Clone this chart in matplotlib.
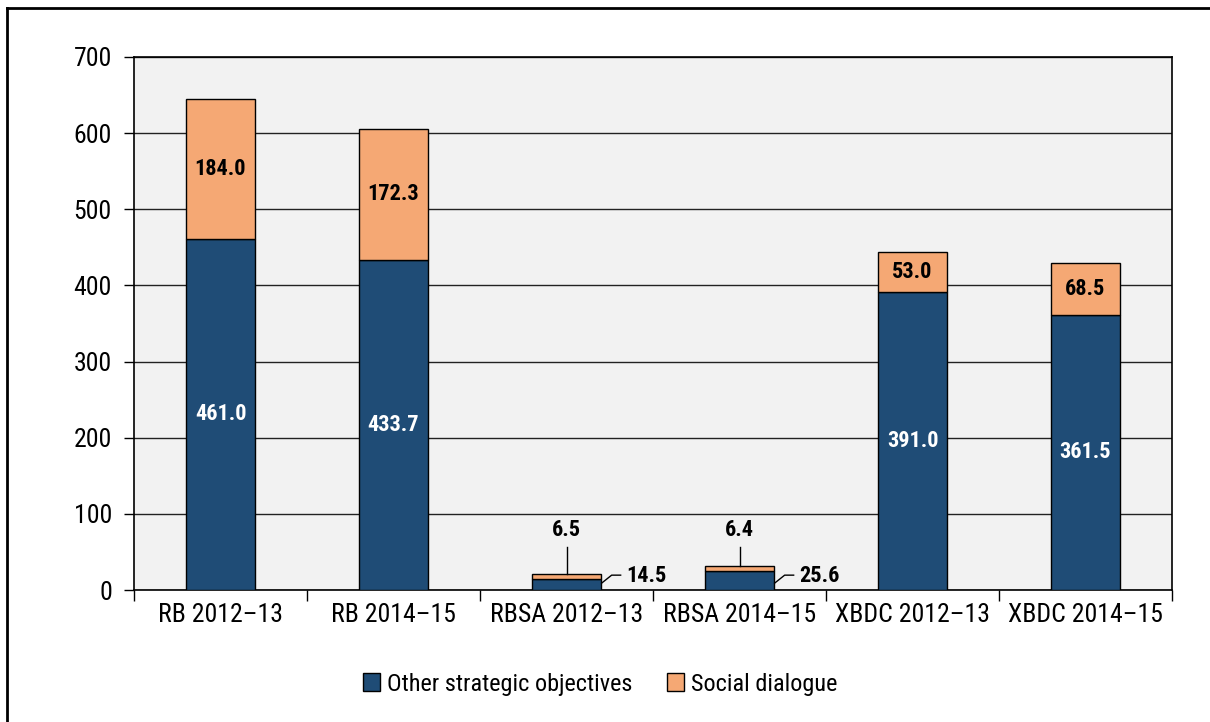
import matplotlib
matplotlib.use("Agg")
import matplotlib.pyplot as plt
from matplotlib.lines import Line2D
from matplotlib.patches import Patch

categories = ["RB 2012–13", "RB 2014–15", "RBSA 2012–13", "RBSA 2014–15", "XBDC 2012–13", "XBDC 2014–15"]
other = [461.0, 433.7, 14.5, 25.6, 391.0, 361.5]
social = [184.0, 172.3, 6.5, 6.4, 53.0, 68.5]
yticks = [0, 100, 200, 300, 400, 500, 600, 700]

FAM = ["Roboto Condensed", "Liberation Sans", "DejaVu Sans"]
plt.rcParams['font.family'] = FAM

NAVY = "#1F4C76"
ORANGE = "#F5A874"

fig = plt.figure(figsize=(12.1, 7.22), dpi=100)
W, H = 1210, 722
ax = fig.add_axes([134 / W, 1 - 590 / H, (1172 - 134) / W, (590 - 57) / H])
ax.set_facecolor("#F2F2F2")

x = list(range(len(categories)))
ax.bar(x, other, width=0.4, color=NAVY, edgecolor="black", linewidth=1, zorder=3,
       label="Other strategic objectives")
ax.bar(x, social, width=0.4, bottom=other, color=ORANGE, edgecolor="black", linewidth=1,
       zorder=3, label="Social dialogue")

ax.set_xlim(-0.5, 5.5)
ax.set_ylim(0, 700)
ax.set_yticks(yticks)
ax.set_yticklabels([str(v) for v in yticks])
ax.set_xticks(x)
ax.set_xticklabels(categories)
ax.set_xticks([i - 0.5 for i in range(len(categories) + 1)], minor=True)
ax.tick_params(axis='x', which='major', length=0, pad=9, labelsize=18.5)
ax.tick_params(axis='x', which='minor', length=8, width=1, direction='out')
ax.tick_params(axis='y', length=7, width=1, direction='out', pad=9, labelsize=18.5)
ax.yaxis.grid(True, color="#222222", linewidth=1, zorder=1)
for s in ax.spines.values():
    s.set_linewidth(1.2)
    s.set_color("black")

for i in x:
    o, s = other[i], social[i]
    if o > 100:
        ax.text(i, o / 2, f"{o:.1f}", color="white", ha="center", va="center",
                fontsize=16, fontweight="bold", zorder=4)
        ax.text(i, o + s / 2, f"{s:.1f}", color="black", ha="center", va="center",
                fontsize=16, fontweight="bold", zorder=4)
    else:
        top = o + s
        ax.plot([i, i], [top, 57], color="black", linewidth=1, zorder=4)
        ax.text(i, 65, f"{s:.1f}", color="black", ha="center", va="bottom",
                fontsize=16, fontweight="bold", zorder=4)
        ax.plot([i + 0.203, i + 0.261, i + 0.313], [9, 19.5, 19.5], color="black",
                linewidth=1, zorder=4)
        ax.text(i + 0.345, 18.5, f"{o:.1f}", color="black", ha="left", va="center",
                fontsize=16, fontweight="bold", zorder=4)

handles = [Patch(facecolor=NAVY, edgecolor="black", linewidth=1),
           Patch(facecolor=ORANGE, edgecolor="black", linewidth=1)]
fig.legend(handles, ["Other strategic objectives", "Social dialogue"],
           loc="center", bbox_to_anchor=(600 / W, 1 - 684 / H), ncol=2, frameon=False,
           fontsize=17.5, handlelength=0.7, handleheight=0.7, handletextpad=0.3,
           columnspacing=1.4)

fig.add_artist(Line2D([7 / W, 7 / W], [0, 1 - 8 / H], color="black", linewidth=2,
                      transform=fig.transFigure))
fig.add_artist(Line2D([7 / W, 1], [1 - 8 / H, 1 - 8 / H], color="black", linewidth=2,
                      transform=fig.transFigure))

fig.savefig("out.png", dpi=100)
